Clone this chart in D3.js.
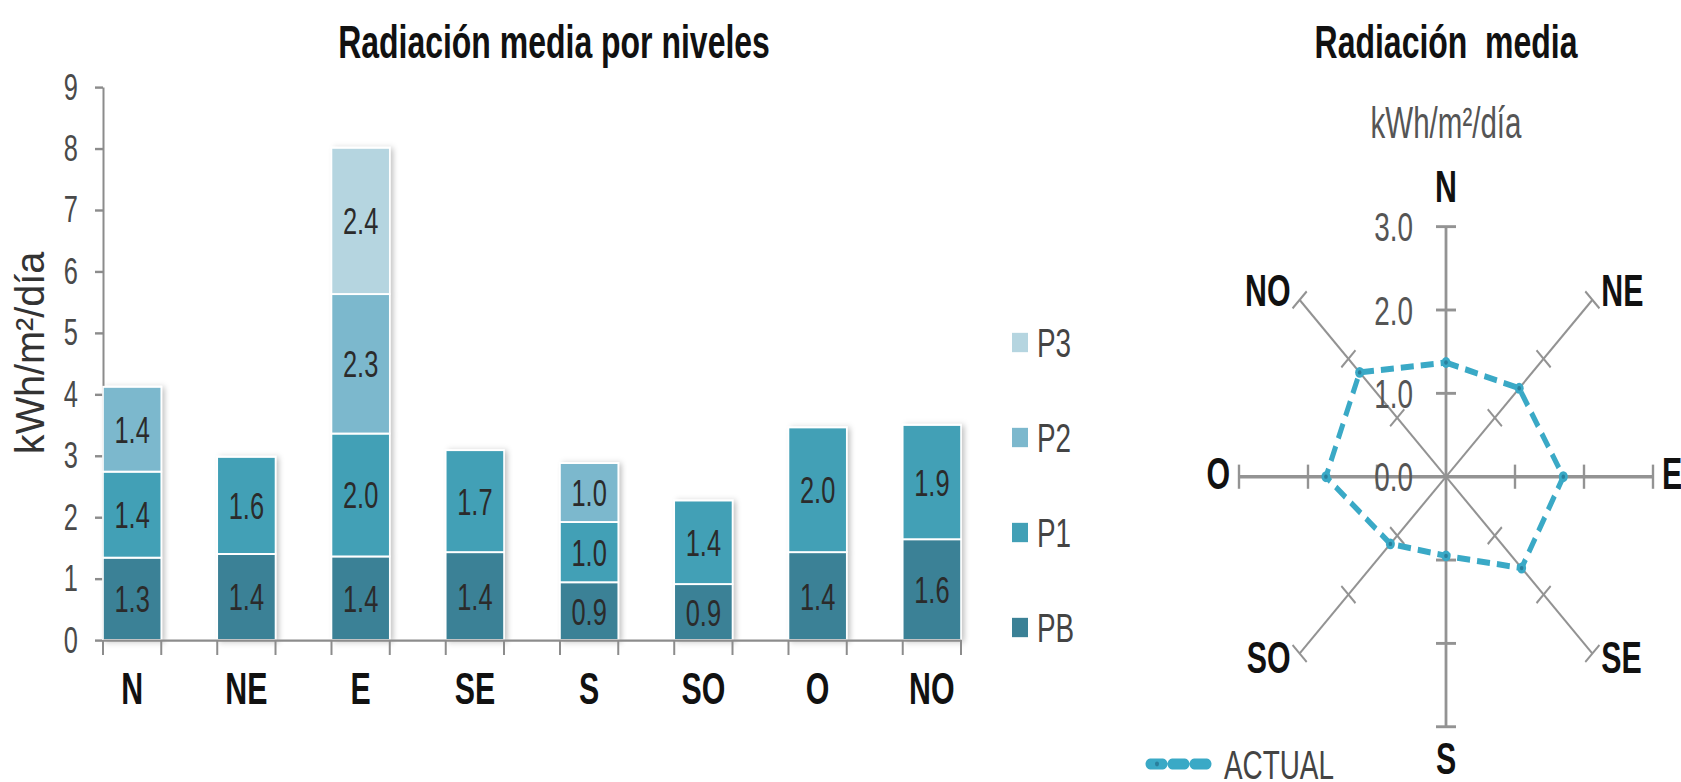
<!DOCTYPE html>
<html>
<head>
<meta charset="utf-8">
<script src="https://cdn.jsdelivr.net/npm/d3@7"></script>
<style>
  body { margin: 0; background: #fff; }
  /* narrow look: Liberation Sans squeezed horizontally */
  text {
    font-family: 'Liberation Sans', Arial, sans-serif;
    transform-box: fill-box;
    transform-origin: center;
    transform: scaleX(0.82);
  }
  text.a-start { transform-origin: left center; }
  text.a-end { transform-origin: right center; }
</style>
</head>
<body>
<div id="vis"></div>
<script>
// Data
const categories = ['N', 'NE', 'E', 'SE', 'S', 'SO', 'O', 'NO'];
const levels = ['PB', 'P1', 'P2', 'P3'];
const pbValues = [1.34, 1.40, 1.36, 1.43, 0.94, 0.91, 1.43, 1.64];
const p1Values = [1.40, 1.58, 2.00, 1.66, 0.98, 1.36, 2.03, 1.86];
const p2Values = [1.38, 0, 2.27, 0, 0.96, 0, 0, 0];
const p3Values = [0, 0, 2.38, 0, 0, 0, 0, 0];
const yTicks = [0, 1, 2, 3, 4, 5, 6, 7, 8, 9];

const radarDirs = ['N', 'NE', 'E', 'SE', 'S', 'SO', 'O', 'NO'];
const actualValues = [1.37, 1.50, 1.70, 1.55, 0.95, 1.14, 1.74, 1.77];
const radarTicks = [0, 1, 2, 3];

const levelColors = { PB: '#3b8196', P1: '#42a0b6', P2: '#7cb8cd', P3: '#b5d5e0' };
const actualColor = '#3aa9c6';

// the picture is stretched vertically, draw everything in a scaled group
const SY = 1.208;
const W = 1681, H = 782;

const svg = d3.select('#vis').append('svg')
    .attr('width', W)
    .attr('height', H);

const defs = svg.append('defs');
const shadow = defs.append('filter').attr('id', 'shadow')
    .attr('x', '-20%').attr('y', '-10%').attr('width', '150%').attr('height', '130%');
shadow.append('feDropShadow')
    .attr('dx', 3).attr('dy', 1).attr('stdDeviation', 2.5)
    .attr('flood-color', '#000').attr('flood-opacity', 0.22);

const root = svg.append('g').attr('transform', `scale(1,${SY})`);

// ---------- stacked bar chart ----------
const rows = categories.map((c, i) => ({
    cat: c, PB: pbValues[i], P1: p1Values[i], P2: p2Values[i], P3: p3Values[i]
}));
const series = d3.stack().keys(levels)(rows);

const x = d3.scaleBand()
    .domain(categories)
    .range([103, 961])
    .paddingInner(0.49)
    .paddingOuter(0);

const y = d3.scaleLinear()
    .domain([0, 9])
    .range([640 / SY, 87 / SY]);

const bars = root.append('g');

// title
bars.append('text')
    .attr('x', 554)
    .attr('y', 41 / SY)
    .attr('dy', '0.36em')
    .attr('text-anchor', 'middle')
    .style('font-size', '39px')
    .style('font-weight', 'bold')
    .style('fill', '#111')
    .text('Radiación media por niveles');

// y axis
const yAxis = bars.append('g')
    .attr('transform', `translate(${x.range()[0]},0)`)
    .call(d3.axisLeft(y).tickValues(yTicks).tickFormat(d3.format('d'))
        .tickSizeInner(8).tickSizeOuter(0).tickPadding(17));
yAxis.selectAll('path, line').attr('stroke', '#8c8c8c').attr('stroke-width', 2);
yAxis.selectAll('text')
    .attr('class', 'a-end')
    .style('font-size', '31px')
    .style('fill', '#4a4a4a');

// y label
bars.append('g')
    .attr('transform', `translate(30,${353 / SY}) rotate(-90)`)
    .append('text')
    .attr('dy', '0.36em')
    .attr('text-anchor', 'middle')
    .style('font-size', '40px')
    .style('fill', '#333')
    .text('kWh/m²/día');

// stacked segments
const segG = bars.append('g').attr('filter', 'url(#shadow)');
series.forEach(s => {
    segG.selectAll(null)
        .data(s.filter(d => d[1] - d[0] > 0))
        .join('rect')
        .attr('x', d => x(d.data.cat))
        .attr('width', x.bandwidth())
        .attr('y', d => y(d[1]))
        .attr('height', d => y(d[0]) - y(d[1]))
        .attr('fill', levelColors[s.key])
        .attr('stroke', '#fff')
        .attr('stroke-width', 1.6);
});

// segment labels
const fmt = d3.format('.1f');
series.forEach(s => {
    bars.selectAll(null)
        .data(s.filter(d => d[1] - d[0] > 0))
        .join('text')
        .attr('x', d => x(d.data.cat) + x.bandwidth() / 2)
        .attr('y', d => (y(d[0]) + y(d[1])) / 2)
        .attr('dy', '0.36em')
        .attr('text-anchor', 'middle')
        .style('font-size', '31px')
        .style('fill', '#2b2b2b')
        .text(d => fmt(d[1] - d[0]));
});

// x axis
const xAxis = bars.append('g')
    .attr('transform', `translate(0,${y(0)})`)
    .call(d3.axisBottom(x).tickSize(0).tickPadding(27));
xAxis.select('.domain').attr('stroke', '#8c8c8c').attr('stroke-width', 2);
xAxis.selectAll('text')
    .style('font-size', '37px')
    .style('font-weight', 'bold')
    .style('fill', '#111');

// ticks at both bar edges
const edges = categories.flatMap(c => [x(c), x(c) + x.bandwidth()]);
xAxis.selectAll('.edge')
    .data(edges)
    .join('line')
    .attr('class', 'edge')
    .attr('x1', d => d).attr('x2', d => d)
    .attr('y1', 0).attr('y2', 15 / SY)
    .attr('stroke', '#8c8c8c')
    .attr('stroke-width', 2);

// legend
const legendOrder = levels.slice().reverse();
const legend = bars.append('g');
legendOrder.forEach((k, i) => {
    const ly = (342.5 + i * 95) / SY;
    legend.append('rect')
        .attr('x', 1012).attr('y', ly - 8)
        .attr('width', 16).attr('height', 16)
        .attr('fill', levelColors[k]);
    legend.append('text')
        .attr('class', 'a-start')
        .attr('x', 1037).attr('y', ly)
        .attr('dy', '0.36em')
        .style('font-size', '34px')
        .style('fill', '#444')
        .text(k);
});

// ---------- radar chart ----------
const cx = 1446, cy = 476.7 / SY;
const r = d3.scaleLinear().domain([0, 3]).range([0, 207]);
const angle = d3.scalePoint().domain(radarDirs).range([0, 315]);
const pt = (dir, v) => {
    const a = angle(dir) * Math.PI / 180;
    return [cx + r(v) * Math.sin(a), cy - r(v) * Math.cos(a)];
};

const radar = root.append('g');

radar.append('text')
    .attr('x', cx).attr('y', 41 / SY)
    .attr('dy', '0.36em')
    .attr('text-anchor', 'middle')
    .style('font-size', '39px')
    .style('font-weight', 'bold')
    .style('white-space', 'pre')
    .style('fill', '#111')
    .text('Radiación  media');

radar.append('text')
    .attr('x', cx).attr('y', 122 / SY)
    .attr('dy', '0.36em')
    .attr('text-anchor', 'middle')
    .style('font-size', '36px')
    .style('fill', '#555')
    .text('kWh/m²/día');

// spokes
radarDirs.forEach(dir => {
    const main = angle(dir) % 90 === 0;
    const [x2, y2] = pt(dir, 3);
    radar.append('line')
        .attr('x1', cx).attr('y1', cy)
        .attr('x2', x2).attr('y2', y2)
        .attr('stroke', '#939393')
        .attr('stroke-width', main ? 2.8 : 1.9);
    // tick marks perpendicular to the spoke
    const a = angle(dir) * Math.PI / 180;
    const px = Math.cos(a), py = Math.sin(a);
    radarTicks.filter(t => t > 0).forEach(t => {
        const [tx, ty] = pt(dir, t);
        radar.append('line')
            .attr('x1', tx - px * 10).attr('y1', ty - py * 10)
            .attr('x2', tx + px * 10).attr('y2', ty + py * 10)
            .attr('stroke', '#939393')
            .attr('stroke-width', main ? 2.4 : 1.9);
    });
});

// radial tick labels
radar.selectAll('.rtick')
    .data(radarTicks)
    .join('text')
    .attr('class', 'rtick a-end')
    .attr('x', 1413)
    .attr('y', d => pt('N', d)[1])
    .attr('dy', '0.36em')
    .attr('text-anchor', 'end')
    .style('font-size', '34px')
    .style('fill', '#555')
    .text(d => d3.format('.1f')(d));

// direction labels
radarDirs.forEach(dir => {
    const a = angle(dir) * Math.PI / 180;
    const s = Math.sin(a), c = Math.cos(a);
    const [ex, ey] = pt(dir, 3);
    let dx = 0, dy = 0, anchor = 'middle';
    if (Math.abs(s) > 0.1) { dx = s > 0 ? 9 : -9; anchor = s > 0 ? 'start' : 'end'; }
    if (c > 0.9) dy = -34;
    else if (c < -0.9) dy = 26;
    else if (c > 0.1) dy = -8;
    else if (c < -0.1) dy = 3;
    else dy = -3;
    radar.append('text')
        .attr('class', anchor === 'start' ? 'a-start' : anchor === 'end' ? 'a-end' : null)
        .attr('x', ex + dx).attr('y', ey + dy)
        .attr('dy', '0.36em')
        .attr('text-anchor', anchor)
        .style('font-size', '37px')
        .style('font-weight', 'bold')
        .style('fill', '#111')
        .text(dir);
});

// actual series
const line = d3.line().curve(d3.curveLinearClosed);
const pts = radarDirs.map((dir, i) => pt(dir, actualValues[i]));
radar.append('path')
    .attr('d', line(pts))
    .attr('fill', 'none')
    .attr('stroke', actualColor)
    .attr('stroke-width', 5)
    .attr('stroke-dasharray', '13,7');
radar.selectAll('.mk')
    .data(pts)
    .join('circle')
    .attr('class', 'mk')
    .attr('cx', d => d[0]).attr('cy', d => d[1])
    .attr('r', 4.5)
    .attr('fill', actualColor);
radar.selectAll('.mk2')
    .data(pts)
    .join('circle')
    .attr('class', 'mk2')
    .attr('cx', d => d[0]).attr('cy', d => d[1])
    .attr('r', 1.8)
    .attr('fill', '#2a7f9c');

// legend for actual
const ly = 764 / SY;
radar.append('line')
    .attr('x1', 1150).attr('x2', 1213)
    .attr('y1', ly).attr('y2', ly)
    .attr('stroke', actualColor)
    .attr('stroke-width', 9)
    .attr('stroke-linecap', 'round')
    .attr('stroke-dasharray', '13,9');
radar.append('circle')
    .attr('cx', 1157).attr('cy', ly).attr('r', 2)
    .attr('fill', '#2a7f9c');
radar.append('text')
    .attr('class', 'a-start')
    .attr('x', 1224).attr('y', ly)
    .attr('dy', '0.36em')
    .style('font-size', '34px')
    .style('fill', '#444')
    .text('ACTUAL');
</script>
</body>
</html>
